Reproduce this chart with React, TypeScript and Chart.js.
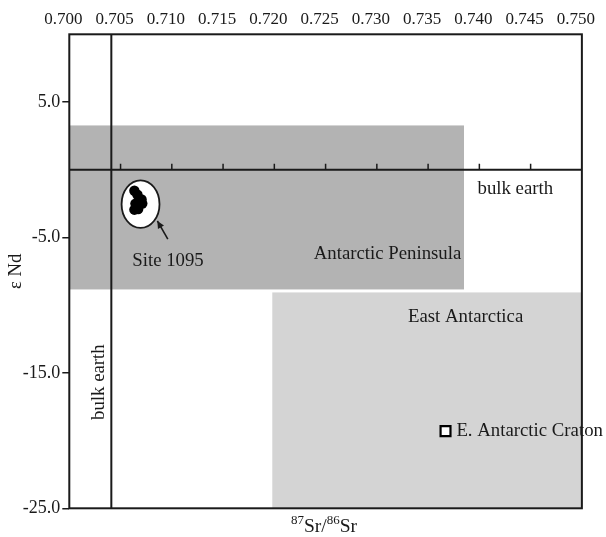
import React, { useEffect, useRef } from "react";
import { Chart, registerables } from "chart.js";
Chart.register(...registerables);

// ---- data ----
const xTickValues = [0.7, 0.705, 0.71, 0.715, 0.72, 0.725, 0.73, 0.735, 0.74, 0.745, 0.75];
const yTickValues = [5, -5, -15, -25];
const xRange = [0.7, 0.75];
const yRange = [-25, 10];
const bulkEarthSr = 0.7041;
const bulkEarthNd = 0;
const peninsulaSr = [0.7, 0.7385];
const peninsulaNd = [-8.84, 3.27];
const eastAntSr = [0.7198, 0.75];
const eastAntNd = [-25, -9.06];
const cratonSr = [0.7367];
const cratonNd = [-19.3];
const siteFieldSr = [0.7051, 0.7088];
const siteFieldNd = [-4.3, -0.78];
const siteSr = [0.70635, 0.70665, 0.70705, 0.70712, 0.70672, 0.70635, 0.70645];
const siteNd = [-1.55, -1.85, -2.2, -2.5, -2.9, -2.95, -2.5];
const siteArrowSr = [0.70961, 0.70859];
const siteArrowNd = [-5.12, -3.78];

// annotation labels (text, anchor Sr, anchor Nd, align, rotated)
const labelTexts = ["Site 1095", "Antarctic Peninsula", "East Antarctica", "bulk earth", "bulk earth", "E. Antarctic Craton"];
const labelSr = [0.70963, 0.73104, 0.73866, 0.74351, 0.7029, 0.73776];
const labelNd = [-6.76, -6.24, -10.85, -1.45, -15.68, -19.33];
const labelAlign = ["center", "center", "center", "center", "center", "left"];
const labelRotated = [false, false, false, false, true, false];

const FONT = "'Liberation Serif', 'Times New Roman', serif";
const INK = "#1a1a1a";

const overlay = {
  id: "overlay",
  beforeDatasetsDraw(chart: any) {
    const { ctx } = chart;
    const x = chart.scales.x;
    const y = chart.scales.y;
    const px = (v: number) => x.getPixelForValue(v);
    const py = (v: number) => y.getPixelForValue(v);
    ctx.save();
    ctx.fillStyle = "#b3b3b3";
    ctx.fillRect(px(peninsulaSr[0]), py(peninsulaNd[1]), px(peninsulaSr[1]) - px(peninsulaSr[0]), py(peninsulaNd[0]) - py(peninsulaNd[1]));
    ctx.fillStyle = "#d4d4d4";
    ctx.fillRect(px(eastAntSr[0]), py(eastAntNd[1]), px(eastAntSr[1]) - px(eastAntSr[0]), py(eastAntNd[0]) - py(eastAntNd[1]));
    ctx.strokeStyle = INK;
    ctx.lineWidth = 2;
    ctx.beginPath();
    ctx.moveTo(px(xRange[0]), py(bulkEarthNd));
    ctx.lineTo(px(xRange[1]), py(bulkEarthNd));
    ctx.moveTo(px(bulkEarthSr), py(yRange[0]));
    ctx.lineTo(px(bulkEarthSr), py(yRange[1]));
    ctx.stroke();
    ctx.lineWidth = 1.5;
    ctx.beginPath();
    xTickValues.slice(1, -1).forEach((v) => {
      ctx.moveTo(px(v), py(bulkEarthNd));
      ctx.lineTo(px(v), py(bulkEarthNd) - 6);
    });
    ctx.stroke();
    const cx = (px(siteFieldSr[0]) + px(siteFieldSr[1])) / 2;
    const cy = (py(siteFieldNd[0]) + py(siteFieldNd[1])) / 2;
    const rx = (px(siteFieldSr[1]) - px(siteFieldSr[0])) / 2;
    const ry = (py(siteFieldNd[0]) - py(siteFieldNd[1])) / 2;
    ctx.beginPath();
    ctx.ellipse(cx, cy, rx, ry, 0, 0, Math.PI * 2);
    ctx.fillStyle = "#ffffff";
    ctx.fill();
    ctx.lineWidth = 1.8;
    ctx.strokeStyle = INK;
    ctx.stroke();
    ctx.restore();
  },
  afterDatasetsDraw(chart: any) {
    const { ctx, chartArea } = chart;
    const x = chart.scales.x;
    const y = chart.scales.y;
    const px = (v: number) => x.getPixelForValue(v);
    const py = (v: number) => y.getPixelForValue(v);
    ctx.save();
    ctx.strokeStyle = INK;
    ctx.lineWidth = 2;
    ctx.strokeRect(chartArea.left, chartArea.top, chartArea.right - chartArea.left, chartArea.bottom - chartArea.top);
    const x0 = px(siteArrowSr[0]), y0 = py(siteArrowNd[0]);
    const x1 = px(siteArrowSr[1]), y1 = py(siteArrowNd[1]);
    ctx.lineWidth = 1.6;
    ctx.beginPath();
    ctx.moveTo(x0, y0);
    ctx.lineTo(x1, y1);
    ctx.stroke();
    const ang = Math.atan2(y1 - y0, x1 - x0);
    ctx.beginPath();
    ctx.moveTo(x1, y1);
    ctx.lineTo(x1 - 8 * Math.cos(ang - 0.45), y1 - 8 * Math.sin(ang - 0.45));
    ctx.lineTo(x1 - 8 * Math.cos(ang + 0.45), y1 - 8 * Math.sin(ang + 0.45));
    ctx.closePath();
    ctx.fillStyle = INK;
    ctx.fill();
    ctx.fillStyle = INK;
    ctx.font = `18.8px ${FONT}`;
    ctx.textBaseline = "middle";
    labelTexts.forEach((t, i) => {
      const lx = px(labelSr[i]);
      const ly = py(labelNd[i]);
      ctx.save();
      ctx.translate(lx, ly);
      if (labelRotated[i]) ctx.rotate(-Math.PI / 2);
      ctx.textAlign = labelAlign[i] as CanvasTextAlign;
      ctx.fillText(t, 0, 0);
      ctx.restore();
    });
    ctx.save();
    ctx.translate(16, (chartArea.top + chartArea.bottom) / 2);
    ctx.rotate(-Math.PI / 2);
    ctx.textAlign = "center";
    ctx.font = `18.8px ${FONT}`;
    ctx.fillText("ε Nd", 0, 0);
    ctx.restore();
    const parts = [
      { t: "87", s: 13, dy: -8 },
      { t: "Sr/", s: 19.5, dy: 0 },
      { t: "86", s: 13, dy: -8 },
      { t: "Sr", s: 19.5, dy: 0 },
    ];
    let total = 0;
    parts.forEach((p) => {
      ctx.font = `${p.s}px ${FONT}`;
      total += ctx.measureText(p.t).width;
    });
    let cxp = 324 - total / 2;
    const base = chartArea.bottom + 24;
    ctx.textAlign = "left";
    ctx.textBaseline = "alphabetic";
    parts.forEach((p) => {
      ctx.font = `${p.s}px ${FONT}`;
      ctx.fillText(p.t, cxp, base + p.dy);
      cxp += ctx.measureText(p.t).width;
    });
    ctx.restore();
  },
};

export default function App() {
  const ref = useRef<HTMLCanvasElement>(null);
  useEffect(() => {
    if (!ref.current) return;
    const chart = new Chart(ref.current, {
      type: "scatter",
      data: {
        datasets: [
          {
            label: "Site 1095",
            data: siteSr.map((v, i) => ({ x: v, y: siteNd[i] })),
            backgroundColor: "#000000",
            borderWidth: 0,
            pointRadius: 5.2,
            pointHoverRadius: 5.2,
          },
          {
            label: "E. Antarctic Craton",
            data: cratonSr.map((v, i) => ({ x: v, y: cratonNd[i] })),
            pointStyle: "rect",
            backgroundColor: "#ffffff",
            borderColor: "#000000",
            borderWidth: 2.2,
            pointRadius: 7,
            pointHoverRadius: 7,
          },
        ],
      },
      options: {
        animation: false,
        responsive: true,
        maintainAspectRatio: false,
        layout: { padding: { left: 0, right: 23.3, top: 0, bottom: 0 } },
        plugins: { legend: { display: false }, tooltip: { enabled: false } },
        scales: {
          x: {
            type: "linear",
            position: "top",
            min: xRange[0],
            max: xRange[1],
            afterBuildTicks: (s: any) => {
              s.ticks = xTickValues.map((v) => ({ value: v }));
            },
            afterFit: (s: any) => {
              s.height = 34.3;
            },
            ticks: {
              autoSkip: false,
              maxRotation: 0,
              padding: 5,
              labelOffset: -6,
              color: INK,
              font: { family: FONT, size: 17 },
              callback: (v: any) => Number(v).toFixed(3),
            },
            grid: { display: false, drawTicks: false },
            border: { display: false },
          },
          x2: {
            type: "linear",
            position: "bottom",
            min: xRange[0],
            max: xRange[1],
            ticks: { display: false },
            grid: { display: false, drawTicks: false },
            border: { display: false },
            afterFit: (s: any) => {
              s.height = 28.7;
            },
          },
          y: {
            type: "linear",
            position: "left",
            min: yRange[0],
            max: yRange[1],
            afterBuildTicks: (s: any) => {
              s.ticks = yTickValues.map((v) => ({ value: v }));
            },
            afterFit: (s: any) => {
              s.width = 69.3;
            },
            ticks: {
              padding: 2,
              color: INK,
              font: { family: FONT, size: 18 },
              callback: (v: any) => Number(v).toFixed(1),
            },
            grid: { drawOnChartArea: false, drawTicks: true, tickLength: 7, color: INK, lineWidth: 1.5 },
            border: { display: false },
          },
        },
      },
      plugins: [overlay],
    } as any);
    return () => chart.destroy();
  }, []);
  return (
    <div style={{ position: "fixed", left: 0, top: 0, width: 606, height: 537, background: "#ffffff" }}>
      <canvas ref={ref} />
    </div>
  );
}
